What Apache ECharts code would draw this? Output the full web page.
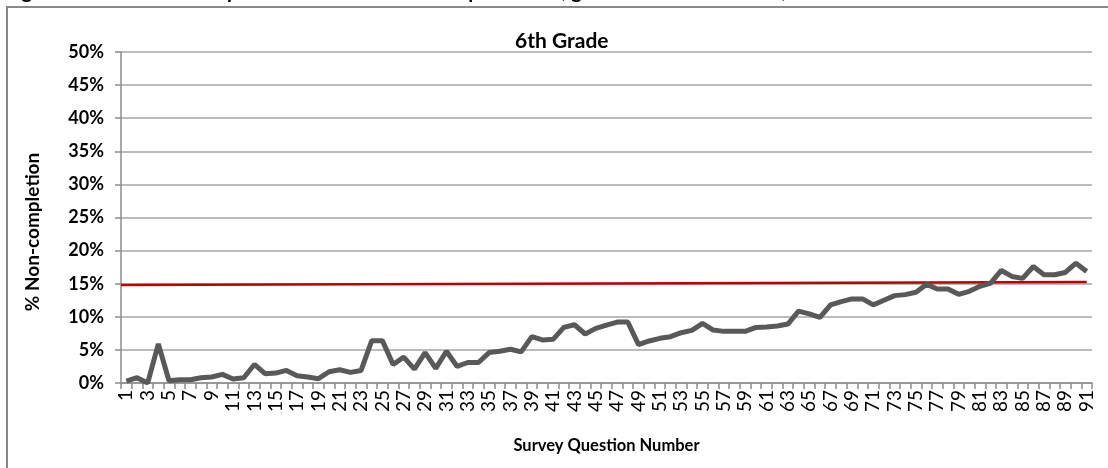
<!DOCTYPE html>
<html>
<head>
<meta charset="utf-8">
<script src="https://cdn.jsdelivr.net/npm/echarts@6/dist/echarts.min.js"></script>
<style>
html,body{margin:0;padding:0;background:#fff;}
#c{width:1108px;height:468px;}
</style>
</head>
<body>
<div id="c"></div>
<script>
// ---- data ----
const categories = [];
for (let i = 1; i <= 91; i++) categories.push(String(i));
const nonCompletion = [
  0.3, 0.8, 0.0, 5.9, 0.35, 0.5, 0.5, 0.8, 0.9, 1.3,
  0.6, 0.8, 2.8, 1.4, 1.5, 1.9, 1.1, 0.9, 0.65, 1.7,
  2.0, 1.6, 1.9, 6.4, 6.4, 2.8, 3.9, 2.1, 4.6, 2.2,
  4.8, 2.5, 3.1, 3.1, 4.6, 4.8, 5.1, 4.7, 7.0, 6.5,
  6.6, 8.4, 8.8, 7.4, 8.25, 8.75, 9.2, 9.2, 5.8, 6.35,
  6.75, 7.0, 7.6, 7.95, 9.0, 8.0, 7.8, 7.8, 7.8, 8.4,
  8.45, 8.6, 8.9, 10.85, 10.45, 9.9, 11.8, 12.3, 12.7, 12.7,
  11.8, 12.5, 13.2, 13.35, 13.7, 14.9, 14.2, 14.2, 13.4, 13.85,
  14.6, 15.1, 17.0, 16.1, 15.8, 17.6, 16.35, 16.35, 16.7, 18.1,
  16.85
];
const trendX = [0.5, 91];
const trendY = [14.8, 15.25];
const chartTitle = "6th Grade";
const headingText = "Figure 12. Item Non-completion Rates for Each Computer Item, grade 6 Student Results, 2014";
const yName = "% Non-completion";
const xName = "Survey Question Number";

const FONT = 'Lato';
const chart = echarts.init(document.getElementById('c'));
chart.setOption({
  animation: false,
  backgroundColor: '#ffffff',
  title: {
    text: chartTitle,
    left: 510, top: 26,
    textStyle: {fontFamily: FONT, fontWeight: 'bold', fontSize: 21, color: '#000'}
  },
  graphic: [
    {type: 'rect', shape: {x: 7, y: 7, width: 1200, height: 600}, style: {fill: 'none', stroke: '#888888', lineWidth: 2}, silent: true},
    {type: 'text', x: 5, y: 2, style: {text: headingText, font: 'bold 20px ' + FONT, fill: '#000', verticalAlign: 'bottom'}},
    {type: 'text', x: 33, y: 232, rotation: Math.PI / 2,
     style: {text: yName, font: 'bold 19px ' + FONT, fill: '#000', align: 'center', verticalAlign: 'middle'}}
  ],
  grid: {left: 121, right: 16, top: 52, bottom: 85, containLabel: false},
  xAxis: [
    {
      type: 'category', data: categories, boundaryGap: true,
      name: xName, nameLocation: 'middle', nameGap: 54,
      nameTextStyle: {fontFamily: FONT, fontWeight: 'bold', fontSize: 16.5, color: '#000'},
      axisLine: {lineStyle: {color: '#8c8c8c', width: 1.5}},
      axisTick: {show: true, interval: 0, length: 6, lineStyle: {color: '#8c8c8c', width: 1.5}},
      axisLabel: {interval: 1, rotate: 90, margin: 7, fontFamily: FONT, fontSize: 19, color: '#000'},
      splitLine: {show: false}
    },
    {
      type: 'value', min: 0.5, max: 91.5, show: false, position: 'bottom'
    }
  ],
  yAxis: {
    type: 'value', min: 0, max: 50, interval: 5,
    axisLine: {show: true, lineStyle: {color: '#8c8c8c', width: 1.5}},
    axisTick: {show: true, length: 6, lineStyle: {color: '#8c8c8c', width: 1.5}},
    axisLabel: {formatter: '{value}%', margin: 17, fontFamily: FONT, fontWeight: 'bold', fontSize: 18, color: '#000'},
    splitLine: {show: true, lineStyle: {color: '#a6a6a6', width: 1.5}}
  },
  series: [
    {
      type: 'line', data: nonCompletion, xAxisIndex: 0,
      symbol: 'none', lineStyle: {color: '#595959', width: 5}, z: 3
    },
    {
      type: 'line', xAxisIndex: 1,
      data: trendX.map((x, i) => [x, trendY[i]]),
      symbol: 'none', lineStyle: {color: '#c00000', width: 2.5}, z: 2
    }
  ]
});
</script>
</body>
</html>
